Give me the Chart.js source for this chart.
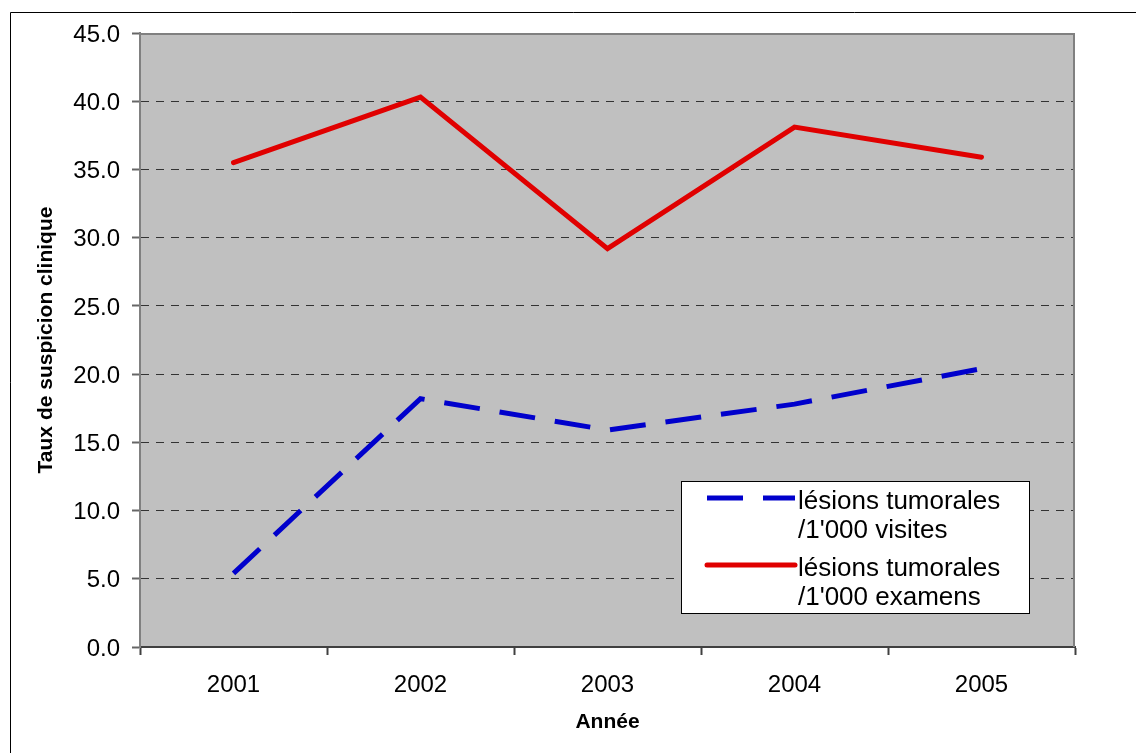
<!DOCTYPE html>
<html lang="fr">
<head>
<meta charset="utf-8">
<title>Taux de suspicion clinique</title>
<script src="https://cdn.jsdelivr.net/npm/chart.js@4.4.1/dist/chart.umd.min.js"></script>
<style>
  html, body { margin: 0; padding: 0; background: #fff; }
  #wrap { width: 1136px; height: 753px; position: relative; }
  canvas { display: block; }
</style>
</head>
<body>
<div id="wrap"><canvas id="c" width="1136" height="753"></canvas></div>
<script>
// Data
const years = ['2001', '2002', '2003', '2004', '2005'];
const visites = [5.4, 18.2, 15.9, 17.8, 20.4];
const examens = [35.5, 40.3, 29.2, 38.1, 35.9];
const visitesLabel = ['lésions tumorales', "/1'000 visites"];
const examensLabel = ['lésions tumorales', "/1'000 examens"];
const yMin = 0, yMax = 45, yStep = 5;
const yTitle = 'Taux de suspicion clinique';
const xTitle = 'Année';

const FONT = "'Liberation Sans', Arial, Helvetica, sans-serif";

// White page, outer frame and grey plot background
const backdrop = {
  id: 'backdrop',
  beforeDraw(chart) {
    const { ctx, chartArea: a, width, height } = chart;
    ctx.save();
    ctx.fillStyle = '#ffffff';
    ctx.fillRect(0, 0, width, height);
    ctx.strokeStyle = '#000000';
    ctx.lineWidth = 1;
    ctx.beginPath();
    ctx.moveTo(10.5, height);
    ctx.lineTo(10.5, 12.5);
    ctx.lineTo(width, 12.5);
    ctx.stroke();
    ctx.fillStyle = '#c0c0c0';
    ctx.fillRect(a.left, a.top, a.right - a.left, a.bottom - a.top);
    ctx.restore();
  }
};

// Grey top and right edges of the plot area
const plotEdge = {
  id: 'plotEdge',
  beforeDatasetsDraw(chart) {
    const { ctx, chartArea: a } = chart;
    ctx.save();
    ctx.strokeStyle = '#808080';
    ctx.lineWidth = 2;
    ctx.beginPath();
    ctx.moveTo(a.left, a.top + 1);
    ctx.lineTo(a.right - 1, a.top + 1);
    ctx.lineTo(a.right - 1, a.bottom);
    ctx.stroke();
    ctx.restore();
  }
};

// Boxed legend inside the plot area, lower right
const boxLegend = {
  id: 'boxLegend',
  afterDatasetsDraw(chart) {
    const { ctx, chartArea: a } = chart;
    const w = 349, h = 133;
    const x0 = a.right - 45 - w;
    const y0 = a.bottom - 33 - h;
    ctx.save();
    ctx.fillStyle = '#ffffff';
    ctx.fillRect(x0, y0, w, h);
    ctx.strokeStyle = '#000000';
    ctx.lineWidth = 1;
    ctx.strokeRect(x0 + 0.5, y0 + 0.5, w - 1, h - 1);
    chart.data.datasets.forEach((ds, i) => {
      const off = i * 67;
      ctx.save();
      ctx.strokeStyle = ds.borderColor;
      ctx.lineWidth = ds.borderWidth;
      ctx.lineCap = ds.borderCapStyle || 'butt';
      ctx.setLineDash(ds.borderDash || []);
      ctx.beginPath();
      ctx.moveTo(x0 + 26, y0 + 17 + off);
      ctx.lineTo(x0 + 114, y0 + 17 + off);
      ctx.stroke();
      ctx.restore();
      ctx.fillStyle = '#000000';
      ctx.font = '26px ' + FONT;
      ctx.textAlign = 'left';
      ctx.textBaseline = 'alphabetic';
      ds.label.split('\n').forEach((line, j) => {
        ctx.fillText(line, x0 + 117, y0 + 28 + off + j * 29);
      });
    });
    ctx.restore();
  }
};

new Chart(document.getElementById('c'), {
  type: 'line',
  data: {
    labels: years,
    datasets: [
      {
        label: visitesLabel.join('\n'),
        data: visites,
        borderColor: '#0000cc',
        borderWidth: 5,
        borderDash: [36, 20],
        borderCapStyle: 'butt',
        borderJoinStyle: 'miter',
        pointRadius: 0,
        fill: false,
        tension: 0
      },
      {
        label: examensLabel.join('\n'),
        data: examens,
        borderColor: '#e00000',
        borderWidth: 5,
        borderCapStyle: 'round',
        borderJoinStyle: 'miter',
        pointRadius: 0,
        fill: false,
        tension: 0
      }
    ]
  },
  options: {
    responsive: false,
    animation: false,
    events: [],
    layout: { padding: { left: 0, top: 33, right: 61, bottom: 10 } },
    plugins: {
      legend: { display: false },
      tooltip: { enabled: false }
    },
    scales: {
      x: {
        type: 'category',
        offset: true,
        grid: {
          offset: true,
          drawOnChartArea: false,
          tickLength: 8,
          color: '#404040',
          tickWidth: 2
        },
        border: { color: '#404040', width: 2 },
        ticks: {
          color: '#000000',
          font: { size: 24, family: FONT },
          padding: 16,
          maxRotation: 0
        },
        title: {
          display: true,
          text: xTitle,
          color: '#000000',
          font: { size: 21, weight: 'bold', family: FONT },
          padding: { top: 0, bottom: 8 }
        },
        afterFit(scale) { scale.height = 96; }
      },
      y: {
        min: yMin,
        max: yMax,
        ticks: {
          stepSize: yStep,
          callback: (v) => Number(v).toFixed(1),
          color: '#000000',
          font: { size: 24, family: FONT },
          padding: 12,
          labelOffset: 2
        },
        grid: {
          color: (ctx) => (ctx.tick && (ctx.tick.value === yMin || ctx.tick.value === yMax)) ? 'rgba(0,0,0,0)' : '#333333',
          lineWidth: 1,
          tickColor: '#666666',
          tickWidth: 2,
          tickLength: 8
        },
        border: { color: '#808080', width: 2, dash: [8, 7] },
        title: {
          display: true,
          text: yTitle,
          color: '#000000',
          font: { size: 21, weight: 'bold', family: FONT },
          padding: { top: 34, bottom: 0 }
        },
        afterFit(scale) { scale.width = 140; }
      }
    }
  },
  plugins: [backdrop, plotEdge, boxLegend]
});
</script>
</body>
</html>
